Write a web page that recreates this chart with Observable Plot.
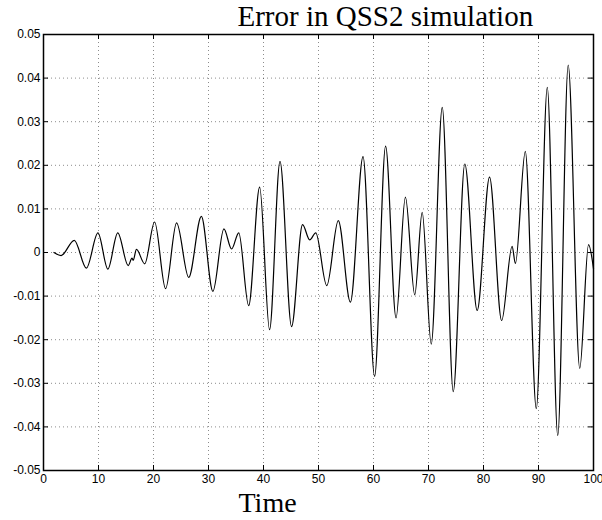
<!DOCTYPE html>
<html>
<head>
<meta charset="utf-8">
<script src="https://cdn.jsdelivr.net/npm/d3@7"></script>
<script src="https://cdn.jsdelivr.net/npm/@observablehq/plot@0.6"></script>
<style>
  body { margin: 0; background: #fff; }
  #chart svg { overflow: visible; display: block; }
</style>
</head>
<body>
<div id="chart"></div>
<script>
// ---- data ----
const times = [
  1.9, 3.2, 5.6, 7.8, 9.9, 11.7, 13.5, 15.4, 16.1, 16.3, 16.9, 18.4,
  20.2, 22.2, 24.2, 26.4, 28.7, 30.8, 32.8, 34.2, 35.5, 37.3, 39.3,
  41.1, 43.0, 45.1, 47.1, 48.4, 49.5, 51.5, 53.6, 55.8, 58.1, 60.2,
  62.2, 64.1, 65.8, 67.5, 68.85, 70.5, 72.5, 74.5, 76.6, 78.85, 81.1,
  83.3, 85.2, 85.8, 87.6, 89.6, 91.6, 93.5, 95.4, 97.5, 99.1, 100
];
const errors = [
  0.0, -0.0007, 0.0028, -0.0036, 0.0045, -0.0038, 0.0045, -0.0030, -0.0013, -0.0018, 0.0007, -0.0026,
  0.0070, -0.0083, 0.0068, -0.0057, 0.0083, -0.0089, 0.0054, 0.0008, 0.0045, -0.0122, 0.0150,
  -0.0177, 0.0209, -0.0170, 0.0064, 0.0029, 0.0045, -0.0076, 0.0073, -0.0114, 0.0220, -0.0284,
  0.0244, -0.0150, 0.0127, -0.0097, 0.0092, -0.0210, 0.0333, -0.0319, 0.0203, -0.0133, 0.0173,
  -0.0156, 0.0014, -0.0025, 0.0232, -0.0358, 0.0379, -0.0420, 0.0430, -0.0266, 0.0018, -0.0037
];
const xTicks = [0, 10, 20, 30, 40, 50, 60, 70, 80, 90, 100];
const xTickLabels = ["0", "10", "20", "30", "40", "50", "60", "70", "80", "90", "100"];
const yTicks = [-0.05, -0.04, -0.03, -0.02, -0.01, 0, 0.01, 0.02, 0.03, 0.04, 0.05];
const yTickLabels = ["-0.05", "-0.04", "-0.03", "-0.02", "-0.01", "0", "0.01", "0.02", "0.03", "0.04", "0.05"];
const titleText = "Error in QSS2 simulation";
const xLabelText = "Time";

// ---- layout ----
const W = 602, H = 520;
const mTop = 34, mBottom = 50, mLeft = 43, mRight = 9;
const plotW = W - mLeft - mRight;
const plotH = H - mTop - mBottom;
const tickLen = 5;

const rows = times.map((t, i) => ({t, e: errors[i]}));
const lookup = (ticks, labels) => d => labels[ticks.findIndex(v => Math.abs(v - d) < 1e-9)];

const chart = Plot.plot({
  width: W,
  height: H,
  marginTop: mTop,
  marginBottom: mBottom,
  marginLeft: mLeft,
  marginRight: mRight,
  style: {fontFamily: "'Liberation Sans', Arial, sans-serif", fontSize: "12px", background: "#fff", color: "#000", overflow: "visible"},
  x: {domain: [0, 100], ticks: xTicks, tickSize: 0, tickPadding: 4, tickFormat: lookup(xTicks, xTickLabels), label: null},
  y: {domain: [-0.05, 0.05], ticks: yTicks, tickSize: 0, tickPadding: 3, tickFormat: lookup(yTicks, yTickLabels), label: null},
  marks: [
    Plot.gridX(xTicks, {stroke: "#000", strokeOpacity: 0.45, strokeDasharray: "1,3"}),
    Plot.gridY(yTicks, {stroke: "#000", strokeOpacity: 0.45, strokeDasharray: "1,3"}),
    // inward tick marks on all four sides
    Plot.tickX(xTicks, {x: d => d, insetTop: plotH - tickLen, stroke: "#000"}),
    Plot.tickX(xTicks, {x: d => d, insetBottom: plotH - tickLen, stroke: "#000"}),
    Plot.tickY(yTicks, {y: d => d, insetRight: plotW - tickLen, stroke: "#000"}),
    Plot.tickY(yTicks, {y: d => d, insetLeft: plotW - tickLen, stroke: "#000"}),
    Plot.line(rows, {x: "t", y: "e", curve: "monotone-x", stroke: "#000", strokeWidth: 1.2}),
    Plot.frame({stroke: "#000", strokeWidth: 1.5}),
    Plot.text([titleText], {
      text: d => d, frameAnchor: "top-left", dx: 194, dy: -18,
      textAnchor: "start", lineAnchor: "middle",
      fontFamily: "'Liberation Serif', 'DejaVu Serif', serif", fontSize: 29, fill: "#000"
    }),
    Plot.text([xLabelText], {
      text: d => d, frameAnchor: "bottom-left", dx: 195, dy: 33,
      textAnchor: "start", lineAnchor: "middle",
      fontFamily: "'Liberation Serif', 'DejaVu Serif', serif", fontSize: 28, fill: "#000"
    })
  ]
});
document.getElementById("chart").appendChild(chart);
</script>
</body>
</html>
